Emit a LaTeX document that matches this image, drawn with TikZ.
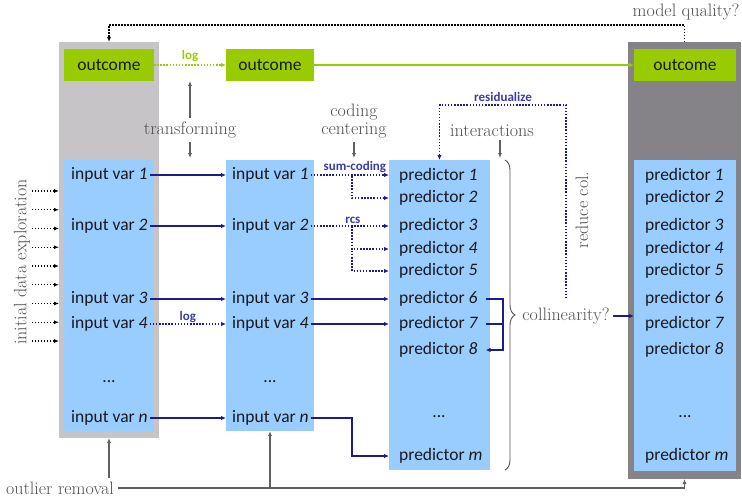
\documentclass[tikz,border=0pt]{standalone}
\usepackage{fontspec}
\newfontfamily\calfont{Carlito}
\usetikzlibrary{arrows.meta,decorations.pathreplacing}
\definecolor{og}{HTML}{99CC00}
\definecolor{lbl}{HTML}{99CCFF}
\definecolor{lgr}{HTML}{C6C4C7}
\definecolor{dgr}{HTML}{858387}
\definecolor{nav}{HTML}{1C1C8E}
\definecolor{labc}{HTML}{3C3CA6}
\definecolor{tgr}{HTML}{505050}
\definecolor{agr}{HTML}{606060}
\definecolor{txt}{HTML}{1A1A1A}
\newcommand\sansf{\calfont\fontsize{17.5}{20}\selectfont}
\newcommand\serf{\fontsize{18}{18}\selectfont}
\newcommand\tinyb{\calfont\bfseries\fontsize{13}{15}\selectfont}
\begin{document}
\begin{tikzpicture}[x=1pt,y=-1pt,
  panel/.style={inner sep=0pt,outer sep=0pt,draw=none},
  otc/.style={panel,fill=og,font=\sansf,text=txt,minimum height=32pt},
  lab/.style={inner sep=2pt,anchor=west,font=\sansf,text=txt},
  dts/.style={inner sep=2pt,font=\sansf,text=txt},
  sertxt/.style={font=\serf,text=tgr},
  smalllab/.style={font=\tinyb,text=labc},
  navarr/.style={draw=nav,line width=1.6pt,-{Latex[length=5pt,width=4.5pt]}},
  navline/.style={draw=nav,line width=1.6pt},
  dotarr/.style={draw=nav,line width=1.5pt,dash pattern=on 1.5pt off 1.6pt,-{Latex[length=5pt,width=4.5pt]}},
  garr/.style={draw=agr,line width=1.1pt,-{Latex[length=5pt,width=4pt]}},
  kdotarr/.style={draw=black,line width=1.3pt,dash pattern=on 1.3pt off 1.7pt,-{Latex[length=5pt,width=4pt]}},
  gdotarr/.style={draw=og,line width=1.5pt,dash pattern=on 1.5pt off 1.6pt,-{Latex[length=5pt,width=4.5pt]}},
  garrsolid/.style={draw=og,line width=1.6pt,-{Latex[length=5pt,width=4.5pt]}}
]
\useasboundingbox (0,0) rectangle (742,498);
% panels
\node[panel,fill=lgr,minimum width=100pt,minimum height=396pt] (lp) at (109,240) {};
\node[otc,minimum width=90pt] (lo) at (109,65) {outcome};
\node[panel,fill=lbl,minimum width=90pt,minimum height=271pt] (lb) at (109,295.5) {};
\node[otc,minimum width=88pt] (mo) at (270,65) {outcome};
\node[panel,fill=lbl,minimum width=88pt,minimum height=271pt] (mb) at (270,295.5) {};
\node[panel,fill=lbl,minimum width=101pt,minimum height=310pt] (pb) at (439.5,315) {};
\node[panel,fill=dgr,minimum width=113pt,minimum height=437pt] (rp) at (684.5,260.5) {};
\node[otc,minimum width=102pt] (ro) at (685,65) {outcome};
\node[panel,fill=lbl,minimum width=102pt,minimum height=311pt] (rb) at (685,315.5) {};
% input vars
\foreach \n/\y in {1/175,2/226,3/299,4/324,n/418} {
  \node[lab] (l\n) at (69,\y) {input var \textit{\n}};
  \node[lab] (m\n) at (230,\y) {input var \textit{\n}};
}
\node[dts] (ld) at (109,382) {...};
\node[dts] (md) at (270,382) {...};
% predictors
\foreach \n/\y in {1/176,2/198,3/226,4/249,5/271,6/299,7/324,8/350,m/456} {
  \node[lab] (p\n) at (397,\y) {predictor \textit{\n}};
  \node[lab] (r\n) at (643,\y) {predictor \textit{\n}};
}
\node[dts] (pd) at (439,417) {...};
\node[dts] (rd) at (685,417) {...};
% left -> middle
\foreach \n in {1,2,3,n} {
  \draw[navarr] (l\n.east) -- (l\n.east -| mb.west);
}
\draw[dotarr] (l4.east) -- node[smalllab,above=0pt,inner sep=1pt] {log} (l4.east -| mb.west);
% middle -> predictors
\draw[dotarr] (m1.east) -- node[smalllab,above=1pt,inner sep=1pt,xshift=5pt] {sum-coding} (m1.east -| pb.west);
\coordinate (sc) at (352,176);
\draw[dotarr] (sc) |- (p2.west -| pb.west);
\draw[dotarr] (m2.east) -- node[smalllab,above=1pt,inner sep=1pt,xshift=3pt] {rcs} (m2.east -| pb.west);
\coordinate (rc) at (352,226);
\draw[dotarr] (rc) |- (p4.west -| pb.west);
\draw[dotarr] (rc) |- (p5.west -| pb.west);
\draw[navarr] (m3.east) -- (m3.east -| pb.west);
\draw[navarr] (m4.east) -- (m4.east -| pb.west);
\draw[navarr] (mn.east) -- (sc |- mn.east) -- (sc |- pm.west) -- (pm.west -| pb.west);
% interactions 6,7 -> 8
\coordinate (jn) at (503,0);
\draw[navarr,line join=miter] ([xshift=6pt]p6.east) -- (jn |- p6.east) -- (jn |- p8.east) -- ([xshift=6pt]p8.east);
\draw[navline] ([xshift=6pt]p7.east) -- (jn |- p7.east);
% brace
\draw[draw=tgr,line width=0.9pt,decorate,decoration={brace,amplitude=10pt}] ([xshift=15pt]pb.north east) -- ([xshift=15pt]pb.south east);
% collinearity
\node[sertxt] (col) at (566,316) {collinearity?};
\draw[navarr] (col.east) -- (col.east -| rb.west);
\coordinate (rz) at (567,105);
\draw[dotarr] ([yshift=6pt]col.north) -- (col.north |- rz) -| (pb.north);
\node[smalllab] (rzl) at (503,97) {residualize};
\node[sertxt,rotate=90] (rcl) at (582,210) {reduce col.};
% interactions
\node[sertxt] (int) at (492,131) {interactions};
\draw[garr,shorten >=2pt] ([xshift=8pt]int.south) -- ([xshift=8pt]int.south |- pb.north);
% coding centering
\node[sertxt,align=center] (cc) at (354,121) {coding\\centering};
\draw[garr,shorten >=2pt] (cc.south) -- (cc.south |- mb.north);
% transforming
\node[sertxt] (tr) at (190,130) {transforming};
\draw[garr] (tr.north) -- (tr.north |- lo.south);
\draw[garr,shorten >=2pt] (tr.south) -- (tr.south |- lb.north);
% outcome arrows
\draw[gdotarr] (lo.east) -- node[font=\tinyb,text=og,above=2pt,inner sep=1pt] {log} (mo.west);
\draw[garrsolid] (mo.east) -- (ro.west);
% model quality
\node[sertxt] (mq) at (686,12) {model quality?};
\draw[kdotarr] (rp.north) -- ++(0,-17) -| (lp.north);
% initial data exploration
\node[sertxt,rotate=90] (ide) at (22,262) {initial data exploration};
\foreach \i in {0,...,8} {
  \coordinate (ie\i) at (32,{191+18.75*\i});
  \draw[kdotarr] (ie\i) -- (ie\i -| lp.west);
}
% outlier removal
\node[sertxt] (out) at (60,488) {outlier removal};
\draw[garr] (lp.south |- out.north) -- (lp.south);
\draw[garr] ([xshift=1pt]out.east) -| (rp.south);
\draw[garr] (mb.south |- out.east) -- (mb.south);
\end{tikzpicture}
\end{document}
